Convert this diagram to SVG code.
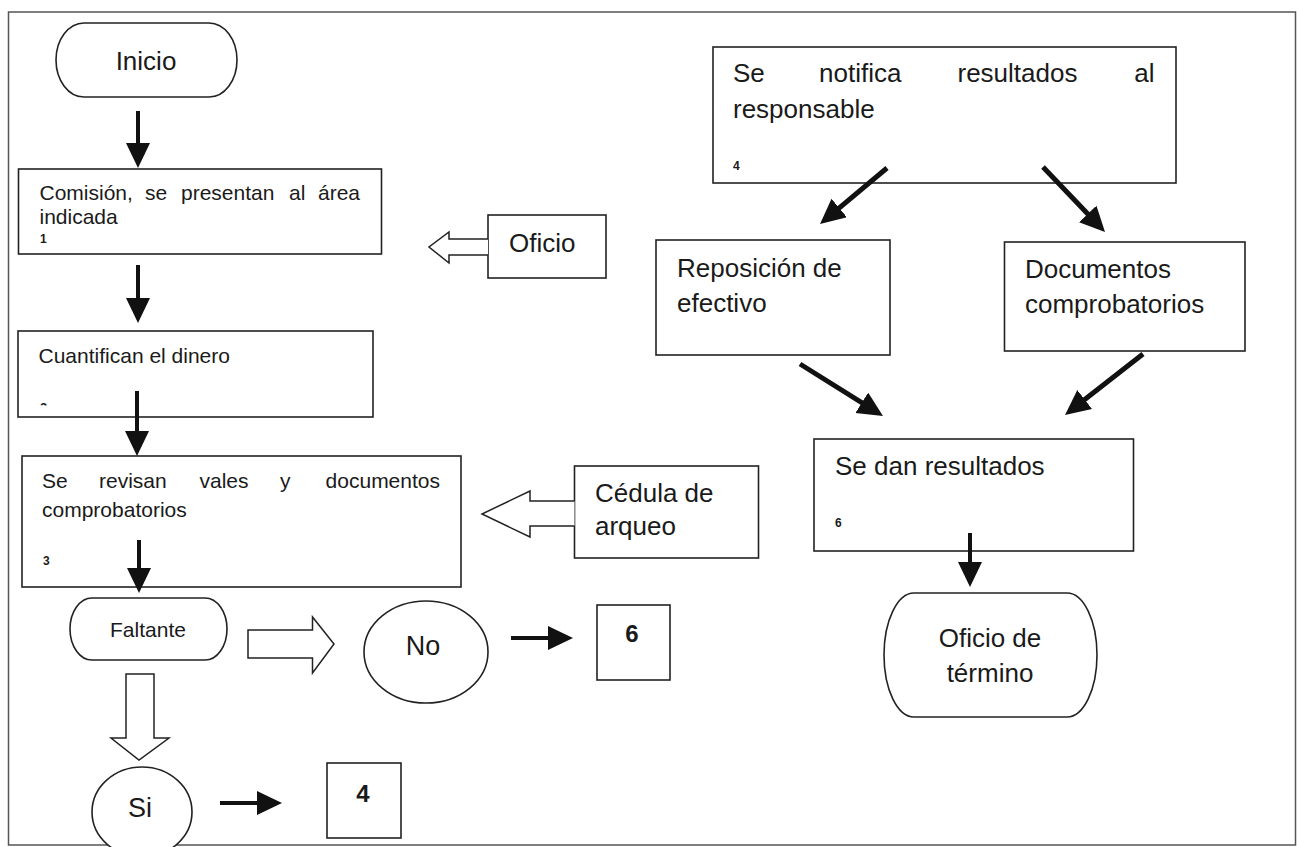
<svg xmlns="http://www.w3.org/2000/svg" width="1297" height="847" viewBox="0 0 1297 847">
<style>
.box{fill:#fff;stroke:#222;stroke-width:1.6}
.hollow{fill:#fff;stroke:#222;stroke-width:1.5;stroke-linejoin:miter}
.t{font-family:"Liberation Sans",Arial,sans-serif;fill:#1a1a1a}
.big{font-size:26px}
.mid{font-size:21px}
.num{font-size:12px;font-weight:bold}
.bnum{font-size:24px;font-weight:bold}
.c{text-anchor:middle}
.e{text-anchor:end}
.sh{stroke:#111;stroke-width:4;fill:none}
.dg{stroke:#111;stroke-width:5;fill:none}
</style>
<defs>
<marker id="ah" markerUnits="userSpaceOnUse" markerWidth="26" markerHeight="26" refX="15" refY="12" orient="auto" viewBox="0 0 26 26">
<path d="M0,0 L25,12 L0,24 z" fill="#111"/>
</marker>
<clipPath id="clip2"><rect x="30" y="390" width="30" height="15.5"/></clipPath>
</defs>
<rect x="0" y="0" width="1297" height="847" fill="#fff"/>
<rect id="frame" x="8.5" y="12" width="1287" height="833" fill="none" stroke="#555" stroke-width="1.5"/>

<g id="inicio">
<rect class="box" x="56" y="23" width="181" height="74" rx="28" ry="37"/>
<text class="t big c" x="146" y="70">Inicio</text>
</g>

<g id="comision">
<rect class="box" x="18.5" y="169" width="363" height="85"/>
<text class="t mid" y="200"><tspan x="39.5">Comisión,</tspan><tspan x="145">se</tspan><tspan x="181">presentan</tspan><tspan x="289">al</tspan></text>
<text class="t mid e" x="360" y="200">área</text>
<text class="t mid" x="39.5" y="224">indicada</text>
<text class="t num" x="40" y="243">1</text>
</g>

<g id="oficio">
<rect class="box" x="488" y="215" width="118" height="63"/>
<text class="t big" x="509" y="252">Oficio</text>
</g>

<g id="cuantifican">
<rect class="box" x="18" y="331" width="355" height="86"/>
<text class="t mid" x="38.5" y="363">Cuantifican el dinero</text>
<text class="t num" x="40" y="412" clip-path="url(#clip2)" style="font-size:13px">2</text>
</g>

<g id="revisan">
<rect class="box" x="22" y="456" width="439" height="131"/>
<text class="t mid" y="488"><tspan x="42">Se</tspan><tspan x="99">revisan</tspan><tspan x="199.5">vales</tspan><tspan x="280">y</tspan></text>
<text class="t mid e" x="440" y="488">documentos</text>
<text class="t mid" x="42" y="517">comprobatorios</text>
<text class="t num" x="43" y="565">3</text>
</g>

<g id="cedula">
<rect class="box" x="574.5" y="466" width="184" height="92"/>
<text class="t big" x="595" y="502">Cédula de</text>
<text class="t big" x="595" y="535">arqueo</text>
</g>

<g id="faltante">
<rect class="box" x="70" y="598" width="157" height="62" rx="22" ry="31"/>
<text class="t mid c" x="148" y="637">Faltante</text>
</g>

<g id="no">
<ellipse class="box" cx="426" cy="652" rx="62" ry="51"/>
<text class="t big c" x="423" y="655" style="font-size:27px">No</text>
</g>

<g id="ref6">
<rect class="box" x="597" y="605" width="73" height="75"/>
<text class="t bnum c" x="632" y="642">6</text>
</g>

<g id="si">
<ellipse class="box" cx="142" cy="812" rx="50" ry="45"/>
<text class="t big c" x="140" y="817" style="font-size:27px">Si</text>
</g>

<g id="ref4">
<rect class="box" x="327" y="763" width="74" height="75"/>
<text class="t bnum c" x="363" y="802">4</text>
</g>

<g id="notifica">
<rect class="box" x="713" y="47" width="463" height="136"/>
<text class="t big" y="82"><tspan x="733">Se</tspan><tspan x="819">notifica</tspan><tspan x="957.5">resultados</tspan></text>
<text class="t big e" x="1154.5" y="82">al</text>
<text class="t big" x="733" y="118">responsable</text>
<text class="t num" x="733" y="170">4</text>
</g>

<g id="reposicion">
<rect class="box" x="656" y="240" width="234" height="115"/>
<text class="t big" x="677" y="277">Reposición de</text>
<text class="t big" x="677" y="312">efectivo</text>
</g>

<g id="documentos">
<rect class="box" x="1004.5" y="242" width="240.5" height="109"/>
<text class="t big" x="1025" y="278">Documentos</text>
<text class="t big" x="1025" y="313">comprobatorios</text>
</g>

<g id="sedan">
<rect class="box" x="814" y="439" width="319.5" height="112"/>
<text class="t big" x="835" y="475">Se dan resultados</text>
<text class="t num" x="835" y="527">6</text>
</g>

<g id="termino">
<rect class="box" x="884" y="593" width="213" height="124" rx="30" ry="62"/>
<text class="t big c" x="990" y="647">Oficio de</text>
<text class="t big c" x="990" y="682">término</text>
</g>

<g id="connectors">
<line class="sh" x1="138" y1="111" x2="138" y2="158" marker-end="url(#ah)"/>
<line class="sh" x1="138" y1="265" x2="138" y2="313" marker-end="url(#ah)"/>
<line class="sh" x1="137" y1="391" x2="137" y2="446" marker-end="url(#ah)"/>
<line class="sh" x1="139" y1="540" x2="139" y2="583" marker-end="url(#ah)"/>
<line class="sh" x1="970" y1="533" x2="970" y2="577" marker-end="url(#ah)"/>
<line class="sh" x1="511" y1="638" x2="563" y2="638" marker-end="url(#ah)"/>
<line class="sh" x1="220" y1="803" x2="272" y2="803" marker-end="url(#ah)"/>
<line class="dg" x1="887" y1="168" x2="827.7" y2="217.6" marker-end="url(#ah)"/>
<line class="dg" x1="1043" y1="167" x2="1098.1" y2="224.8" marker-end="url(#ah)"/>
<line class="dg" x1="800" y1="364" x2="874.5" y2="410.7" marker-end="url(#ah)"/>
<line class="dg" x1="1143" y1="354" x2="1072.9" y2="408.8" marker-end="url(#ah)"/>
<polyline class="hollow" points="488,239 449,239 449,232 429,247 449,263 449,255 488,255"/>
<polyline class="hollow" points="574.5,501 530,501 530,491 482,514 530,537 530,526 574.5,526"/>
<polygon class="hollow" points="248,630 312.5,630 312.5,617 334,644 312.5,673 312.5,658 248,658"/>
<polygon class="hollow" points="126,674 154,674 154,738 169,738 139,760 111,738 126,738"/>
</g>
</svg>
